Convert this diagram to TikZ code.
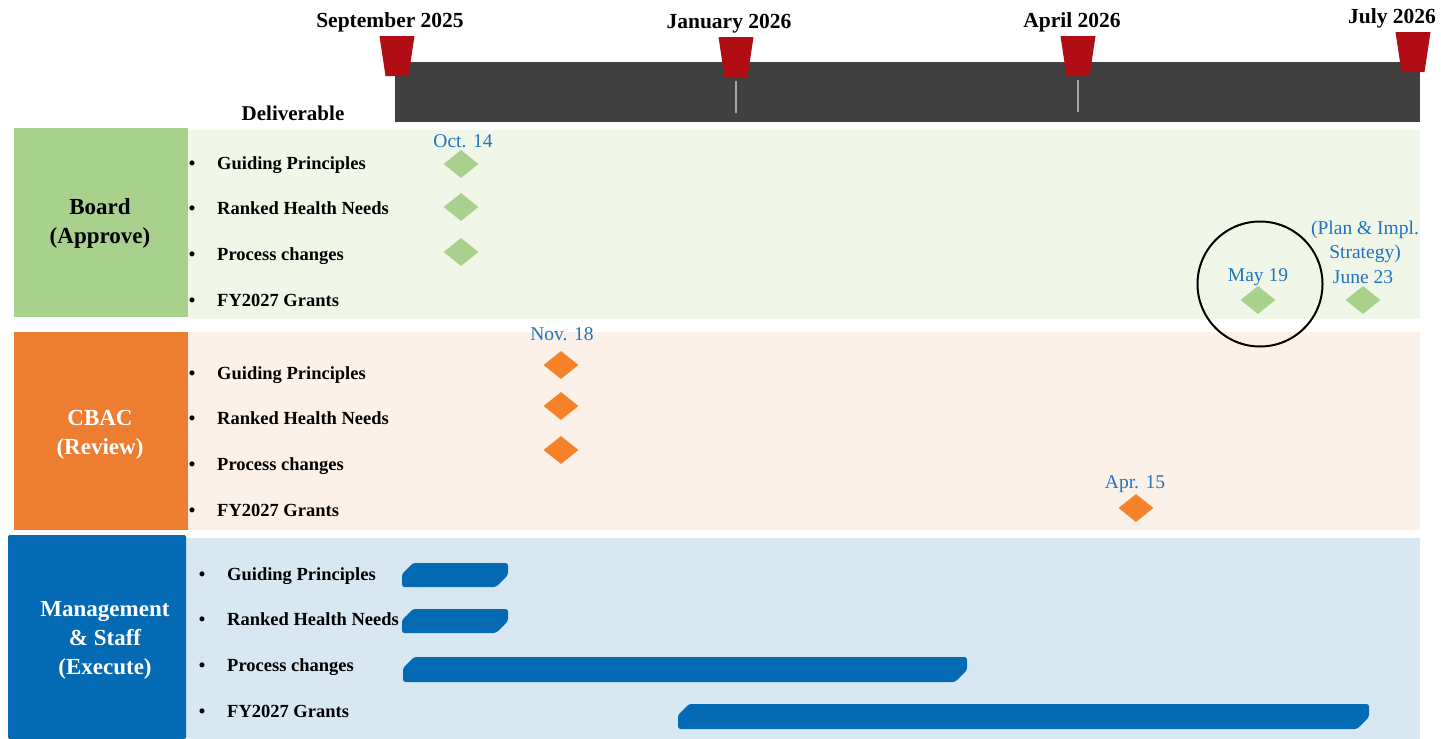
\documentclass[tikz,border=0pt]{standalone}
\usepackage{fontspec}
\setmainfont{Liberation Serif}
\usetikzlibrary{shapes.geometric, positioning, calc}

\definecolor{boardgreen}{RGB}{169,209,142}
\definecolor{boardbg}{RGB}{240,247,233}
\definecolor{cbacorange}{RGB}{237,125,49}
\definecolor{cbacbg}{RGB}{252,241,233}
\definecolor{mgmtblue}{RGB}{4,106,180}
\definecolor{mgmtbg}{RGB}{215,232,242}
\definecolor{flagred}{RGB}{176,14,20}
\definecolor{bargray}{RGB}{64,64,64}
\definecolor{tickgray}{RGB}{165,165,165}
\definecolor{dateblue}{RGB}{33,115,190}
\definecolor{mileorange}{RGB}{245,130,40}

\begin{document}
\begin{tikzpicture}[
		x=1pt, y=-1pt,
		month/.style={anchor=base, inner sep=0pt, font=\fontsize{21.5}{24}\selectfont\bfseries},
		grp/.style={align=center, inner sep=0pt, font=\fontsize{23}{28.5}\selectfont\bfseries},
		bul/.style={anchor=base, inner sep=0pt, font=\fontsize{18.5}{22}\selectfont\bfseries},
		item/.style={anchor=base west, inner sep=0pt, font=\fontsize{18.5}{22}\selectfont\bfseries},
		date/.style={anchor=base, inner sep=0pt, text=dateblue, font=\fontsize{19.5}{24.5}\selectfont},
		mile/.style={diamond, inner sep=0pt, minimum width=35pt, minimum height=28pt},
		flag/.style={fill=flagred},
		bar/.style={fill=mgmtblue, rounded corners=2.5pt}
		]
		\useasboundingbox (0,0) rectangle (1441,739);
		
		% 1. Timeline
		\fill[bargray] (395,62) rectangle (1420,122);
		\draw[tickgray, line width=2pt] (736,81) -- (736,113);
		\draw[tickgray, line width=2pt] (1078,80) -- (1078,112);
		\foreach \x/\t/\lx/\ly/\lbl/\nm in {397/36/390/27/September 2025/sep,
			736/37/729/28/January 2026/jan,
			1078/36/1072/27/April 2026/apr,
			1413/32/1392/23/July 2026/jul} {
			\fill[flag] (\x-17.5,\t) -- (\x+17.5,\t) -- (\x+11.5,\t+40) -- (\x-11.5,\t+40) -- cycle;
			\node[month] (\nm) at (\lx,\ly) {\lbl};
		}
		\node[anchor=base, inner sep=0pt, font=\fontsize{21}{24}\selectfont\bfseries] (deliv) at (293,120) {Deliverable};
		
		% 2. Bands
		\fill[boardbg] (188,130) rectangle (1420,319);
		\fill[boardgreen] (14,128) rectangle (188,317);
		\fill[cbacbg] (188,332) rectangle (1420,530);
		\fill[cbacorange] (14,332) rectangle (188,530);
		\fill[mgmtbg] (186,538) rectangle (1420,739);
		\fill[mgmtblue, rounded corners=2pt] (8,739) -- (8,535) -- (186,535) -- (186,739) -- cycle;
		
		\node[grp] (board) at (100,223.5) {Board\\(Approve)};
		\node[grp, text=white, font=\fontsize{23}{29}\selectfont\bfseries] (cbac) at (100,435) {CBAC\\(Review)};
		\node[grp, text=white, font=\fontsize{23}{29}\selectfont\bfseries] (mgmt) at (105,640.5) {Management\\\&~Staff\\(Execute)};
		
		% 3. Deliverables
		\foreach \g/\yb/\xd in {brd/169/192, cbac/379/192, mgmt/580/202} {
			\foreach \txt [count=\i] in {Guiding Principles, Ranked Health Needs, Process changes, FY2027 Grants} {
				\node[bul] (\g dot\i) at (\xd, \yb+45.8*\i-45.8) {\textbullet};
				\node[item] (\g item\i) at (\xd+25, \yb+45.8*\i-45.8) {\txt};
			}
		}
		
		% 4. Milestones
		\foreach \y [count=\i] in {164,207,252} {
			\node[mile, fill=boardgreen] (brdm\i) at (461,\y) {};
		}
		\node[mile, fill=boardgreen] (brdm4) at (1258,300) {};
		\node[mile, fill=boardgreen] (brdm5) at (1363,300) {};
		\foreach \y [count=\i] in {365,406,450} {
			\node[mile, fill=mileorange] (cbacm\i) at (561,\y) {};
		}
		\node[mile, fill=mileorange] (cbacm4) at (1136,508) {};
		
		\node[date] (oct) at (463,147) {Oct. 14};
		\node[date] (nov) at (562,340) {Nov. 18};
		\node[date] (may) at (1258,281) {May 19};
		\node[date, anchor=center, align=center] (plan) at (1365,242) {(Plan \& Impl.\\Strategy)};
		\node[date] (june) at (1363,283) {June 23};
		\node[date] (apr15) at (1135,488) {Apr. 15};
		\node[circle, draw=black, line width=2pt, minimum size=125pt, inner sep=0pt] (focus) at (1260,284) {};
		
		% 5. Bars
		\foreach \xa/\xb/\ya/\yb in {402/508/563/587, 402/508/609/633, 403/967/657/682, 678/1369/704/729} {
			\fill[bar] (\xa+11,\ya) -- (\xb,\ya) -- (\xb,\yb-12) -- (\xb-12,\yb) -- (\xa,\yb) -- (\xa,\ya+11) -- cycle;
		}
	\end{tikzpicture}
\end{document}
